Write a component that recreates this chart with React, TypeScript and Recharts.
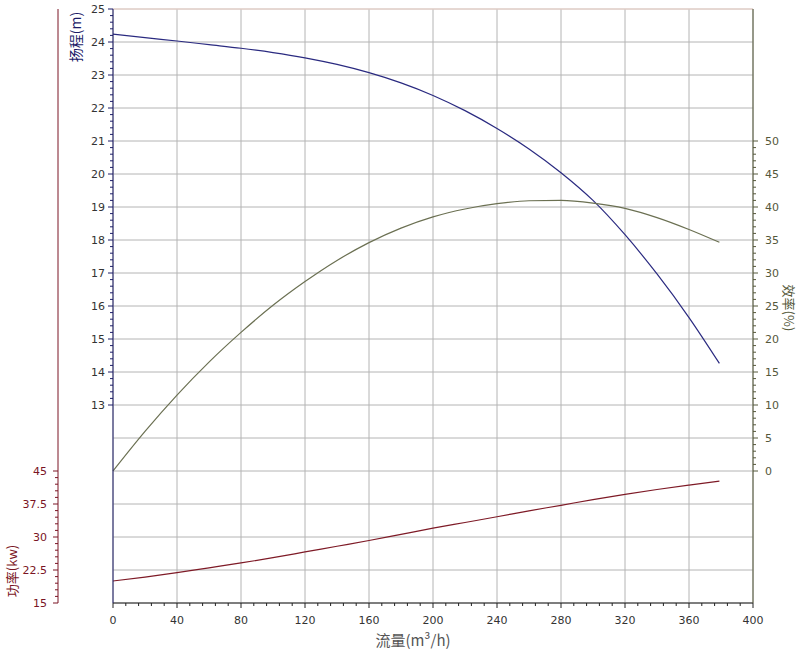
import React from 'react';
import { ComposedChart, Line, XAxis, YAxis, CartesianGrid, ReferenceLine, Label } from 'recharts';

// pump curves
const flow = [0, 20, 40, 60, 80, 100, 120, 140, 160, 180, 200, 220, 240, 260, 280, 300, 320, 340, 360, 379];
const head = [24.24, 24.13, 24.03, 23.92, 23.81, 23.68, 23.52, 23.32, 23.07, 22.76, 22.38, 21.92, 21.38, 20.76, 20.04, 19.2, 18.16, 16.97, 15.65, 14.26];
const efficiency = [0, 6.0, 11.5, 16.5, 21.0, 25.1, 28.7, 31.9, 34.6, 36.8, 38.5, 39.7, 40.5, 40.95, 41.0, 40.6, 39.8, 38.4, 36.6, 34.65];
const power = [20.0, 20.9, 21.9, 23.0, 24.1, 25.3, 26.6, 27.9, 29.2, 30.6, 32.0, 33.3, 34.6, 35.95, 37.2, 38.5, 39.7, 40.8, 41.8, 42.7];

const flowTicks = [0, 40, 80, 120, 160, 200, 240, 280, 320, 360, 400];
const headTicks = [13, 14, 15, 16, 17, 18, 19, 20, 21, 22, 23, 24, 25];
const powerTicks = [15, 22.5, 30, 37.5, 45];
const effTicks = [0, 5, 10, 15, 20, 25, 30, 35, 40, 45, 50];
const headGrid = [7, 8, 9, 10, 11, 12, 13, 14, 15, 16, 17, 18, 19, 20, 21, 22, 23, 24, 25];

const data = flow.map((q, i) => ({ flow: q, head: head[i], eff: efficiency[i], power: power[i] }));

// majors plus 4 minor ticks between each pair
const withMinor = (majors: number[]) => {
  const out: number[] = [];
  for (let i = 0; i < majors.length - 1; i++) {
    const step = (majors[i + 1] - majors[i]) / 5;
    for (let k = 0; k < 5; k++) out.push(majors[i] + k * step);
  }
  out.push(majors[majors.length - 1]);
  return out;
};

const isMajor = (v: number, majors: number[]) => majors.some(m => Math.abs(m - v) < 1e-6);
const FONT = '"DejaVu Sans", "Noto Sans CJK SC", sans-serif';
const CJK = '"Noto Sans CJK SC", sans-serif';

const makeTick = (side: string, majors: number[], lineColor: string, textColor: string) => (props: any) => {
  const { x, y, payload } = props;
  const v = payload.value;
  const major = isMajor(v, majors);
  const len = major ? 5 : 3;
  const label = major ? String(v) : '';
  if (side === 'bottom') {
    return (
      <g>
        <line x1={x} y1={y} x2={x} y2={y + len} stroke={lineColor} />
        <text x={x} y={y + 21} textAnchor="middle" fontSize={11} fontFamily={FONT} fill={textColor}>{label}</text>
      </g>
    );
  }
  if (side === 'right') {
    return (
      <g>
        <line x1={x} y1={y} x2={x + len} y2={y} stroke={lineColor} />
        <text x={x + 12} y={y + 4} textAnchor="start" fontSize={11} fontFamily={FONT} fill={textColor}>{label}</text>
      </g>
    );
  }
  return (
    <g>
      <line x1={x - len} y1={y} x2={x} y2={y} stroke={lineColor} />
      <text x={x - (side === 'power' ? 11 : 8)} y={y + 4} textAnchor="end" fontSize={11} fontFamily={FONT} fill={textColor}>{label}</text>
    </g>
  );
};

// rotated axis title centred on (cx, cy)
const title = (text: string, cx: number, cy: number, angle: number, color: string, size: number) => (
  <text x={cx} y={cy} textAnchor="middle" dominantBaseline="central" fontSize={size} fontFamily={CJK}
    fill={color} transform={`rotate(${angle} ${cx} ${cy})`}>{text}</text>
);

const NAVY = '#1c1c68';
const RED = '#7a1424';
const OLIVE = '#55583a';

export default function App() {
  return (
    <div style={{ position: 'absolute', left: 0, top: 0, width: 803, height: 653, background: '#fff' }}>
      <ComposedChart width={803} height={653} data={data} margin={{ top: 9, right: 0, bottom: 0, left: 0 }}>
        <CartesianGrid yAxisId="head" stroke="#b4b4b4" horizontalValues={headGrid} verticalValues={flowTicks} />
        <ReferenceLine yAxisId="head" y={25} stroke="#f2d6cc" />
        <XAxis dataKey="flow" type="number" domain={[0, 400]} ticks={withMinor(flowTicks)} interval={0}
          height={50} tickSize={0} tickMargin={0} tickLine={false} axisLine={{ stroke: '#222' }}
          tick={makeTick('bottom', flowTicks, '#222', '#333')}>
          <Label content={(p: any) => title('流量(m³/h)', p.viewBox.x + p.viewBox.width / 2 - 20, p.viewBox.y + 36, 0, '#555', 15)} />
        </XAxis>
        <YAxis yAxisId="head" type="number" domain={[7, 25]} ticks={withMinor(headTicks)} interval={0}
          width={55} tickSize={0} tickMargin={0} tickLine={false} axisLine={{ stroke: NAVY }}
          tick={makeTick('left', headTicks, NAVY, '#333')}>
          <Label content={(p: any) => title('扬程(m)', p.viewBox.x + 17, p.viewBox.y + 28, -90, NAVY, 14)} />
        </YAxis>
        <YAxis yAxisId="power" type="number" domain={[15, 150]} ticks={withMinor(powerTicks)} interval={0}
          width={58} tickSize={0} tickMargin={0} tickLine={false} axisLine={{ stroke: RED }}
          tick={makeTick('power', powerTicks, RED, RED)}>
          <Label content={(p: any) => title('功率(kw)', p.viewBox.x + 11, p.viewBox.y + 562, -90, RED, 13)} />
        </YAxis>
        <YAxis yAxisId="eff" orientation="right" type="number" domain={[-20, 70]} ticks={withMinor(effTicks)} interval={0}
          width={50} tickSize={0} tickMargin={0} tickLine={false} axisLine={{ stroke: OLIVE }}
          tick={makeTick('right', effTicks, OLIVE, OLIVE)}>
          <Label content={(p: any) => title('效率(%)', p.viewBox.x + 36, p.viewBox.y + 299, 90, OLIVE, 13)} />
        </YAxis>
        <Line yAxisId="head" dataKey="head" type="monotone" stroke="#2a2a80" strokeWidth={1.2} dot={false} isAnimationActive={false} />
        <Line yAxisId="eff" dataKey="eff" type="monotone" stroke="#6b7052" strokeWidth={1.2} dot={false} isAnimationActive={false} />
        <Line yAxisId="power" dataKey="power" type="monotone" stroke="#7e1a26" strokeWidth={1.2} dot={false} isAnimationActive={false} />
      </ComposedChart>
    </div>
  );
}
